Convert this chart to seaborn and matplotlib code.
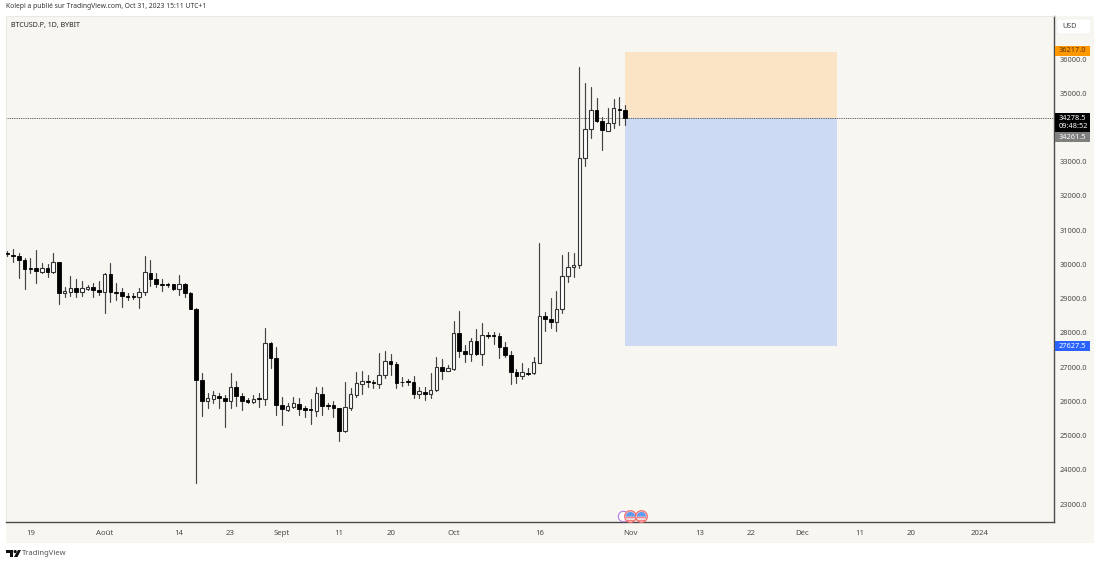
import matplotlib
matplotlib.use("Agg")
import matplotlib.pyplot as plt
import matplotlib.dates as mdates
from matplotlib.patches import Rectangle, Polygon, Circle, Wedge, FancyBboxPatch
from matplotlib.transforms import Affine2D
import numpy as np
import pandas as pd
import seaborn as sns

start_date = "2023-07-15"
opens = [30326,30277,30238,30131,29888,29888,29791,29888,29781,30073,29158,29207,29324,29197,29294,29343,29255,29197,29713,29197,29187,29090,29080,29041,29187,29761,29567,29440,29440,29421,29275,29431,29178,28711,26628,
         26025,26073,26170,26102,26025,26414,26151,26044,25985,26093,26083,27698,27280,25898,25752,25840,25937,25801,25772,25733,26229,25888,25888,25820,25129,25820,26190,26511,26599,26569,26511,26764,27192,27105,26579,26589,26579,
         26210,26278,26210,26337,27008,26891,26950,27991,27485,27397,27767,27397,27952,27942,27923,27592,27368,26862,26755,26842,26823,27134,28497,28399,28312,28711,29674,29917,
         29987,33101,33947,34511,34190,33908,34122,34550,34521]
highs = [30394,30443,30345,30199,30199,30423,30053,30014,30326,30073,29353,29674,29567,29528,29401,29450,29528,29742,30053,29450,29324,29158,29158,29304,30248,30131,29742,29567,29470,29421,29693,29470,29207,28740,26823,
         26239,26316,26239,26190,26822,26599,26239,26093,26190,26239,28136,27747,27601,26141,25966,26141,26093,25869,26063,26414,26433,25947,26015,25820,26579,26385,26871,26900,26774,26628,27406,27484,27387,27163,26725,26647,26745,
         26434,26414,26843,27290,27241,27066,28360,28643,27650,27845,28117,28302,28020,28039,28010,27747,27475,26950,27115,26969,27310,30637,28623,29012,29226,30277,30375,30345,
         35757,35290,35193,34872,34297,34560,34823,34901,34657]
lows = [30258,30063,29616,29294,29761,29470,29742,29645,29742,28837,29061,29080,29061,29080,29255,29041,29109,28574,28915,28964,28769,28964,28983,28720,29109,29382,29333,29226,29353,29255,29109,29061,28701,23612,25587,
        25801,25966,25801,25266,25801,25869,25752,25966,25947,25849,25898,26988,25606,25314,25733,25801,25606,25538,25334,25577,25606,25791,25538,24857,25120,25752,26141,26219,26433,26385,26385,26676,26774,26385,26453,26482,26093,
        26093,26045,26093,26317,26648,26881,26920,27290,27144,27193,27358,27066,27864,27670,27261,27290,26512,26551,26658,26774,26804,27115,28068,28137,28068,28574,29499,29625,
        29890,32877,33684,34171,33344,33908,33976,34074,34074]
closes = [30297,30238,30131,29859,29859,29800,29898,29791,30073,29178,29226,29324,29197,29304,29353,29255,29197,29713,29187,29178,29090,29061,29051,29187,29771,29567,29440,29401,29411,29275,29421,29178,28711,26628,26025,
          26093,26180,26102,26025,26414,26151,26025,25995,26063,26063,27698,27280,25898,25772,25859,25947,25791,25762,25742,26239,25879,25869,25801,25129,25830,26219,26531,26599,26560,26531,26764,27192,27105,26550,26560,26560,26219,
          26298,26210,26337,27018,26901,26969,27991,27485,27397,27777,27397,27932,27923,27913,27592,27358,26862,26755,26852,26813,27154,28497,28399,28312,28711,29674,29917,29985,
          33101,33947,34511,34200,33928,34122,34560,34521,34278]

price_ticks = [23000,24000,25000,26000,27000,28000,29000,30000,31000,32000,33000,34000,35000,36000]
date_ticks = ["2023-07-19","2023-08-01","2023-08-14","2023-08-23","2023-09-01","2023-09-11","2023-09-20",
              "2023-10-01","2023-10-16","2023-11-01","2023-11-13","2023-11-22","2023-12-01","2023-12-11",
              "2023-12-20","2024-01-01"]
date_labels = ["19","Août","14","23","Sept","11","20","Oct","16","Nov","13","22","Déc","11","20","2024"]

target_price = 36217.0
entry_price = 34278.5
stop_price = 27627.5
bid_price = 34261.5
pos_start = "2023-10-31"
pos_end = "2023-12-07"

W, H = 1100, 564
CREAM = "#F8F6F1"
GREY_TXT = "#4A4A4A"
FONT = ["Noto Sans", "DejaVu Sans"]

sns.set_theme(style="white", rc={"axes.facecolor": CREAM, "figure.facecolor": "white"})
plt.rcParams["font.family"] = FONT

fig = plt.figure(figsize=(W / 100, H / 100), dpi=100)
px = Affine2D().scale(1, -1).translate(0, H)   # figure pixels, y pointing down
fig.patches.append(Rectangle((6, 16), 1088, 527, transform=px, facecolor=CREAM, edgecolor="none", zorder=-5))

ax = fig.add_axes([6 / W, 1 - 522 / H, 1048 / W, 506 / H])
ax.set_facecolor(CREAM)

dates = pd.date_range(start_date, periods=len(opens), freq="D")
wicks = pd.DataFrame({
    "date": np.concatenate([dates, dates]),
    "price": highs + lows,
    "day": list(range(len(dates))) * 2,
})
sns.lineplot(data=wicks, x="date", y="price", units="day", estimator=None, sort=False,
             color="#444444", linewidth=0.85, ax=ax, zorder=3)

o, c = np.array(opens), np.array(closes)
up = c >= o
ax.bar(dates[up], (c - o)[up], bottom=o[up], width=0.62, color="white", edgecolor="#333333", linewidth=0.8, zorder=4)
ax.bar(dates[~up], (o - c)[~up], bottom=c[~up], width=0.62, color="black", edgecolor="black", linewidth=0.6, zorder=4)

x0, x1 = mdates.date2num(pd.Timestamp(pos_start)), mdates.date2num(pd.Timestamp(pos_end))
ax.add_patch(Rectangle((x0, entry_price), x1 - x0, target_price - entry_price, facecolor="#FBE4C6", edgecolor="none", zorder=1))
ax.add_patch(Rectangle((x0, stop_price), x1 - x0, entry_price - stop_price, facecolor="#CDDAF4", edgecolor="none", zorder=1))
ax.axhline(entry_price, color="#444444", linewidth=0.65, linestyle=(0, (1, 1)), zorder=2)

base = mdates.date2num(pd.Timestamp(start_date))
ax.set_xlim(base - 0.26, base + 183.0)
ax.set_ylim(22480, 37256)
ax.set_xlabel("")
ax.set_ylabel("")
ax.set_xticks(pd.to_datetime(date_ticks))
ax.set_xticklabels(date_labels)
ax.set_yticks(price_ticks)
ax.set_yticklabels([f"{v:.1f}" for v in price_ticks])
ax.yaxis.tick_right()
ax.tick_params(axis="x", length=0, pad=6, labelsize=5.6, colors=GREY_TXT)
ax.tick_params(axis="y", length=0, pad=4, labelsize=5.3, colors=GREY_TXT)
for side in ["top", "left"]:
    ax.spines[side].set_color("#E8E6E1")
    ax.spines[side].set_linewidth(0.6)
for side in ["right", "bottom"]:
    ax.spines[side].set_color("#4A4A4A")
    ax.spines[side].set_linewidth(1.0)
ax.grid(False)

def ptext(x, y, s, size=5.3, color=GREY_TXT, ha="left", va="center", **kw):
    fig.text(x, y, s, transform=px, fontsize=size, color=color, ha=ha, va=va, zorder=20, **kw)

def badge(y0, y1, color):
    fig.patches.append(Rectangle((1055, y0), 35, y1 - y0, transform=px, facecolor=color, edgecolor="none", zorder=10))

ptext(6, 7, "Kolepi a publié sur TradingView.com, Oct 31, 2023 15:11 UTC+1", size=4.85, color="#333333")
ptext(11, 25.5, "BTCUSD.P, 1D, BYBIT", size=5.1, color="#222222")

fig.patches.append(FancyBboxPatch((1057, 19), 34, 15, boxstyle="round,pad=0,rounding_size=2", transform=px,
                                  facecolor="white", edgecolor="#EEEEEE", linewidth=0.5, zorder=10))
ptext(1062, 27, "USD", size=5.2)

badge(46, 56, "#FF9800")
ptext(1059, 51, f"{target_price:.1f}", color="#5A3200")
badge(113, 132, "#000000")
ptext(1059, 118, f"{entry_price:.1f}", color="white")
ptext(1059, 127, "09:48:52", color="white")
badge(132, 142, "#7F7F7F")
ptext(1059, 137.5, f"{bid_price:.1f}", color="white")
badge(341, 351, "#2962FF")
ptext(1059, 346, f"{stop_price:.1f}", color="white")

# event markers on the time axis
fig.patches.append(Circle((623.5, 516.5), 5.2, transform=px, facecolor="white", edgecolor="#B478E0", linewidth=0.8, zorder=8))
for cx in (630.5, 641.5):
    fig.patches.append(Circle((cx, 516.5), 5.8, transform=px, facecolor="#F6D6D6", edgecolor="#F07070", linewidth=0.9, zorder=9))
    fig.patches.append(Rectangle((cx - 4.2, 517), 8.4, 1.3, transform=px, facecolor="#F08080", edgecolor="none", zorder=10))
    fig.patches.append(Rectangle((cx - 3.5, 519.5), 7, 1.2, transform=px, facecolor="#F08080", edgecolor="none", zorder=10))
    fig.patches.append(Wedge((cx, 516.5), 4.6, 180, 360, transform=px, facecolor="#5C9CF0", edgecolor="none", zorder=10))

# footer logo and wordmark
fig.patches.append(Polygon([(6, 550), (13, 550), (13, 557), (10, 557), (10, 553), (6, 553)], closed=True, transform=px, facecolor="#111111", edgecolor="none"))
fig.patches.append(Circle((15.2, 551.6), 1.6, transform=px, facecolor="#111111", edgecolor="none"))
fig.patches.append(Polygon([(18, 550), (21, 550), (17.5, 557), (14, 557)], closed=True, transform=px, facecolor="#111111", edgecolor="none"))
ptext(21.5, 553.5, "TradingView", size=5.5, color="#555555")

fig.savefig("out.png", dpi=100)
